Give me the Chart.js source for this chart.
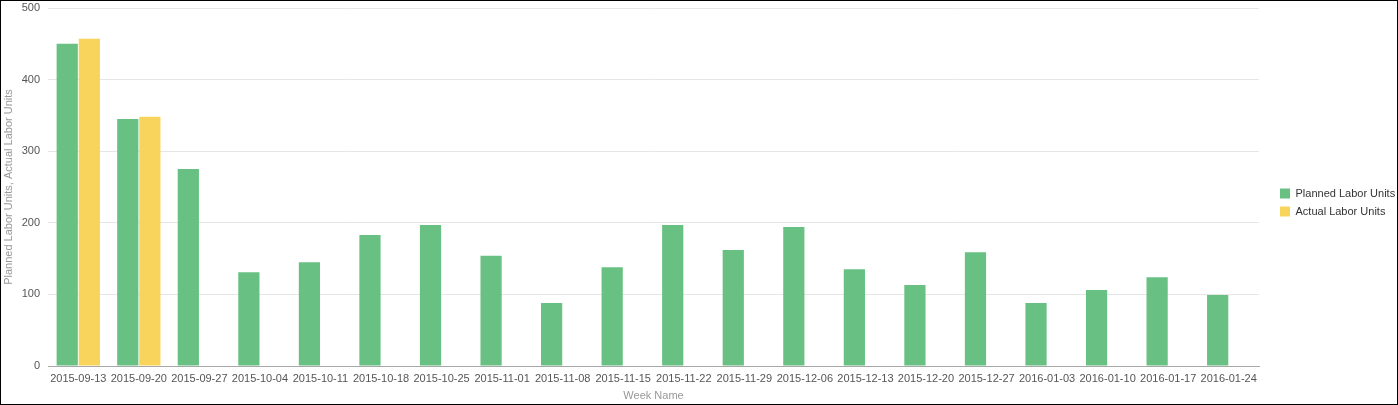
<!DOCTYPE html>
<html>
<head>
<meta charset="utf-8">
<script src="https://cdn.jsdelivr.net/npm/chart.js@4/dist/chart.umd.min.js"></script>
<style>
  html, body { margin: 0; padding: 0; background: #fff; }
  #wrap { position: relative; width: 1396px; height: 403px; border: 1px solid #000; }
  canvas { display: block; }
</style>
</head>
<body>
<div id="wrap"><canvas id="c"></canvas></div>
<script>
const weekNames = ["2015-09-13","2015-09-20","2015-09-27","2015-10-04","2015-10-11","2015-10-18","2015-10-25","2015-11-01","2015-11-08","2015-11-15","2015-11-22","2015-11-29","2015-12-06","2015-12-13","2015-12-20","2015-12-27","2016-01-03","2016-01-10","2016-01-17","2016-01-24"];
const plannedLaborUnits = [450,345,275,131,145,183,197,154,88,138,197,162,194,135,113,159,88,106,124,99];
const actualLaborUnits = [457,348,null,null,null,null,null,null,null,null,null,null,null,null,null,null,null,null,null,null];
const yTicks = [0,100,200,300,400,500];

const FONT = "'Liberation Sans', Arial, sans-serif";
Chart.defaults.font.family = FONT;
Chart.defaults.font.size = 11;

// Widen the legend box and push its items right, like the reference
const legendTweak = {
  id: 'legendTweak',
  beforeLayout(chart) {
    const lg = chart.legend;
    if (lg && !lg._tweaked) {
      const fit = lg.fit.bind(lg);
      lg.fit = function () { fit(); this.width = 138; };
      lg._tweaked = true;
    }
  },
  afterLayout(chart) {
    if (chart.legend) chart.legend.left += 14;
  }
};

new Chart(document.getElementById('c'), {
  type: 'bar',
  data: {
    labels: weekNames,
    datasets: [
      { label: 'Planned Labor Units', data: plannedLaborUnits, backgroundColor: '#68c182', categoryPercentage: 0.73, barPercentage: 0.96 },
      { label: 'Actual Labor Units', data: actualLaborUnits, backgroundColor: '#f8d45c', categoryPercentage: 0.73, barPercentage: 0.96 }
    ]
  },
  plugins: [legendTweak],
  options: {
    responsive: true,
    maintainAspectRatio: false,
    animation: false,
    layout: { padding: 0 },
    plugins: {
      legend: {
        position: 'right',
        align: 'center',
        labels: { boxWidth: 10, boxHeight: 10, padding: 7, color: '#333', font: { size: 11, family: FONT } }
      },
      tooltip: { enabled: false }
    },
    scales: {
      x: {
        grid: { display: false, drawTicks: false },
        border: { display: true, color: '#a8a8a8', width: 1 },
        ticks: { color: '#555', maxRotation: 0, autoSkip: false, padding: 6.5, font: { size: 11 } },
        title: { display: true, text: 'Week Name', color: '#999', font: { size: 11 }, padding: { top: 0, bottom: 1 } },
        afterFit: (s) => { s.height = 38; s.paddingLeft = 0; s.paddingRight = 0; }
      },
      y: {
        min: 0, max: 500,
        afterBuildTicks: (axis) => { axis.ticks = yTicks.map(v => ({ value: v })); },
        grid: { color: '#e6e6e6', drawTicks: false },
        border: { display: false },
        ticks: { color: '#555', padding: 8, font: { size: 11 } },
        title: { display: true, text: 'Planned Labor Units, Actual Labor Units', color: '#999', font: { size: 11 }, padding: { top: 1.4, bottom: 0 } },
        afterFit: (s) => { s.width = 47; s.paddingTop = 7; s.paddingBottom = 0; }
      }
    }
  }
});
</script>
</body>
</html>
